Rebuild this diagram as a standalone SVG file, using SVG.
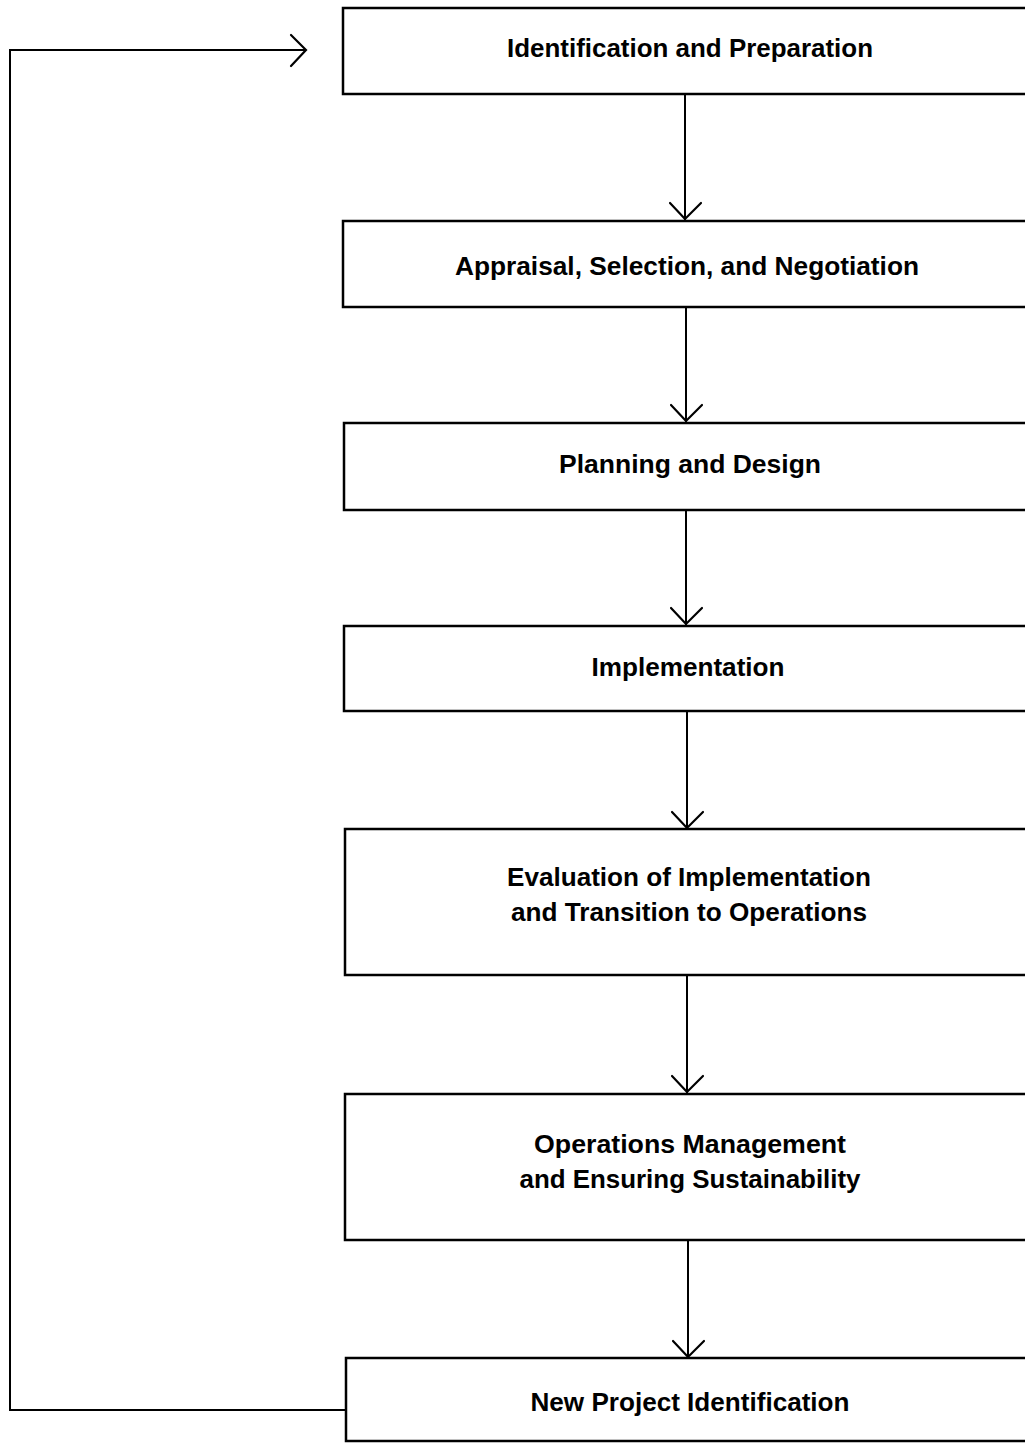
<svg xmlns="http://www.w3.org/2000/svg" width="1025" height="1443" viewBox="0 0 1025 1443">
<style>
.box{fill:#fff;stroke:#000;stroke-width:2.5}
.t{font-family:"Liberation Sans",Arial,sans-serif;font-weight:bold;font-size:25px;fill:#000;text-anchor:middle}
.c{fill:none;stroke:#000;stroke-width:2}
.h{fill:none;stroke:#000;stroke-width:2.2;stroke-linecap:round}
</style>
<rect width="1025" height="1443" fill="#fff"/>
<g id="connectors">
<line class="c" x1="685" y1="94" x2="685" y2="220"/><polyline class="h" points="670,203 685,219 701,203"/>
<line class="c" x1="686" y1="307" x2="686" y2="422"/><polyline class="h" points="671,405 686,421 702,405"/>
<line class="c" x1="686" y1="510" x2="686" y2="625"/><polyline class="h" points="671,608 686,624 702,608"/>
<line class="c" x1="687" y1="711" x2="687" y2="828"/><polyline class="h" points="672,812 687,828 703,812"/>
<line class="c" x1="687" y1="975" x2="687" y2="1093"/><polyline class="h" points="672,1076 687,1092 703,1076"/>
<line class="c" x1="688" y1="1240" x2="688" y2="1357"/><polyline class="h" points="673,1341 688,1357 704,1341"/>
<polyline class="c" points="346,1410 10,1410 10,50 305,50"/><polyline class="h" points="291,35 306,50 291,66"/>
</g>
<g id="n1"><rect class="box" x="343" y="8" width="700" height="86"/><text class="t" x="690" y="57" textLength="366" lengthAdjust="spacingAndGlyphs">Identification and Preparation</text></g>
<g id="n2"><rect class="box" x="343" y="221" width="700" height="86"/><text class="t" x="687" y="275" textLength="464" lengthAdjust="spacingAndGlyphs">Appraisal, Selection, and Negotiation</text></g>
<g id="n3"><rect class="box" x="344" y="423" width="700" height="87"/><text class="t" x="690" y="473" textLength="262" lengthAdjust="spacingAndGlyphs">Planning and Design</text></g>
<g id="n4"><rect class="box" x="344" y="626" width="700" height="85"/><text class="t" x="688" y="676" textLength="193" lengthAdjust="spacingAndGlyphs">Implementation</text></g>
<g id="n5"><rect class="box" x="345" y="829" width="700" height="146"/><text class="t" x="689" y="886" textLength="364" lengthAdjust="spacingAndGlyphs">Evaluation of Implementation</text><text class="t" x="689" y="921" textLength="356" lengthAdjust="spacingAndGlyphs">and Transition to Operations</text></g>
<g id="n6"><rect class="box" x="345" y="1094" width="700" height="146"/><text class="t" x="690" y="1153" textLength="312" lengthAdjust="spacingAndGlyphs">Operations Management</text><text class="t" x="690" y="1188" textLength="341" lengthAdjust="spacingAndGlyphs">and Ensuring Sustainability</text></g>
<g id="n7"><rect class="box" x="346" y="1358" width="700" height="83"/><text class="t" x="690" y="1411" textLength="319" lengthAdjust="spacingAndGlyphs">New Project Identification</text></g>
</svg>
